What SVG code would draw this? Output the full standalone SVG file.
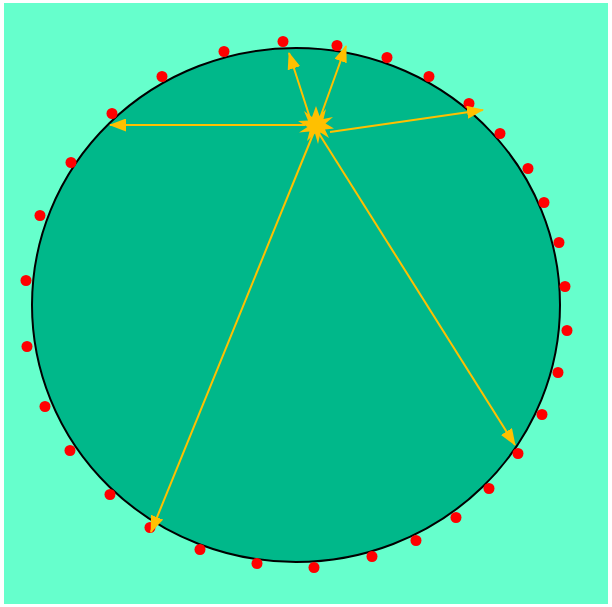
<svg xmlns="http://www.w3.org/2000/svg" width="612" height="607" viewBox="0 0 612 607">
<style>
.conn{stroke:#FFC000;stroke-width:2;fill:none;marker-end:url(#ah)}
.dot{fill:#FF0000}
</style>
<defs>
<marker id="ah" viewBox="0 0 17 13" refX="16" refY="6.5" markerWidth="17" markerHeight="13" markerUnits="userSpaceOnUse" orient="auto">
<path d="M0,0 L17,6.5 L0,13 Z" fill="#FFC000"/>
</marker>
</defs>
<rect x="0" y="0" width="612" height="607" fill="#FFFFFF"/>
<rect x="4" y="3" width="604" height="601" fill="#66FFCC"/>
<g id="disc">
<ellipse cx="296" cy="305" rx="264" ry="257" fill="#00B88A" stroke="#000000" stroke-width="2"/>
</g>
<g id="dots">
<circle class="dot" cx="283" cy="41.5" r="5.5"/>
<circle class="dot" cx="337" cy="45.5" r="5.5"/>
<circle class="dot" cx="387" cy="57.5" r="5.5"/>
<circle class="dot" cx="429" cy="76.5" r="5.5"/>
<circle class="dot" cx="469" cy="103.5" r="5.5"/>
<circle class="dot" cx="500" cy="133.5" r="5.5"/>
<circle class="dot" cx="528" cy="168.5" r="5.5"/>
<circle class="dot" cx="544" cy="202.5" r="5.5"/>
<circle class="dot" cx="559" cy="242.5" r="5.5"/>
<circle class="dot" cx="565" cy="286.5" r="5.5"/>
<circle class="dot" cx="567" cy="330.5" r="5.5"/>
<circle class="dot" cx="558" cy="372.5" r="5.5"/>
<circle class="dot" cx="542" cy="414.5" r="5.5"/>
<circle class="dot" cx="518" cy="453.5" r="5.5"/>
<circle class="dot" cx="489" cy="488.5" r="5.5"/>
<circle class="dot" cx="456" cy="517.5" r="5.5"/>
<circle class="dot" cx="416" cy="540.5" r="5.5"/>
<circle class="dot" cx="372" cy="556.5" r="5.5"/>
<circle class="dot" cx="314" cy="567.5" r="5.5"/>
<circle class="dot" cx="257" cy="563.5" r="5.5"/>
<circle class="dot" cx="200" cy="549.5" r="5.5"/>
<circle class="dot" cx="150" cy="527.5" r="5.5"/>
<circle class="dot" cx="110" cy="494.5" r="5.5"/>
<circle class="dot" cx="70" cy="450.5" r="5.5"/>
<circle class="dot" cx="45" cy="406.5" r="5.5"/>
<circle class="dot" cx="27" cy="346.5" r="5.5"/>
<circle class="dot" cx="26" cy="280.5" r="5.5"/>
<circle class="dot" cx="40" cy="215.5" r="5.5"/>
<circle class="dot" cx="71" cy="162.5" r="5.5"/>
<circle class="dot" cx="112" cy="113.5" r="5.5"/>
<circle class="dot" cx="162" cy="76.5" r="5.5"/>
<circle class="dot" cx="224" cy="51.5" r="5.5"/>
</g>
<g id="connectors">
<line class="conn" x1="310" y1="118" x2="289" y2="53"/>
<line class="conn" x1="320" y1="118" x2="346" y2="46"/>
<line class="conn" x1="330" y1="132" x2="483" y2="110"/>
<line class="conn" x1="305" y1="125" x2="110" y2="125"/>
<line class="conn" x1="314" y1="132" x2="151" y2="532"/>
<line class="conn" x1="318" y1="132" x2="515" y2="445"/>
</g>
<g id="star">
<polygon fill="#FFC000" points="316,106 319.5,116 326,109 323.5,119 333,117 325.5,123.5 334,128.5 325,129.5 329,138 320.5,132.5 318,144 315,133.5 307,141 309.5,131.5 299,132.5 307.5,127 298,121 308,120.5 304,111 312,117"/>
</g>
</svg>
